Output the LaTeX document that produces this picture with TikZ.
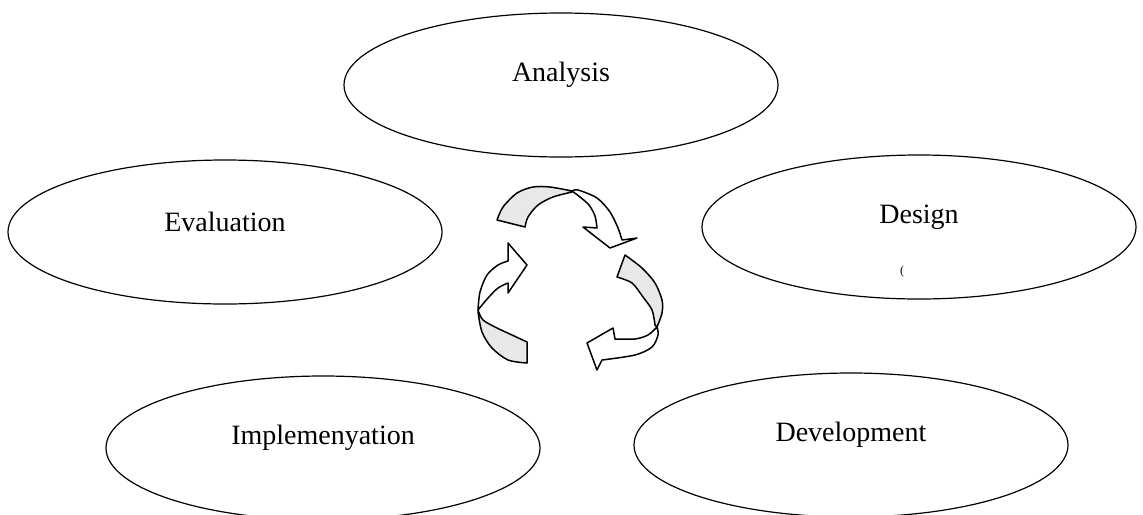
\documentclass[tikz,border=0pt]{standalone}
\usepackage{fontspec}
\setmainfont{Liberation Serif}
\usepackage{tikz}
\usetikzlibrary{shapes.geometric}

\begin{document}
\begin{tikzpicture}[
          x=0.5pt, y=-0.5pt,
          stage/.style={draw, ellipse, line width=0.6pt, minimum width=217pt, minimum height=72pt, inner sep=0pt},
          lbl/.style={font=\fontsize{14}{16}\selectfont, inner sep=1pt},
          under/.style={draw, line width=0.75pt, line join=round, fill=black!9},
          over/.style={draw, line width=0.75pt, line join=round, fill=white}
      ]
        \clip (0,0) rectangle (1143,514);

        \node[stage] (ana) at (561,85) {};
        \node[stage] (eva) at (225,232) {};
        \node[stage] (des) at (919,227) {};
        \node[stage] (imp) at (323,448) {};
        \node[stage] (dev) at (851,445) {};

        \node[lbl] (analbl) at ([yshift=5pt]ana.center) {Analysis};
        \node[lbl] (evalbl) at ([yshift=5pt]eva.center) {Evaluation};
        \node[lbl] (deslbl) at ([yshift=5pt]des.center) {Design};
        \node[lbl] (implbl) at ([yshift=5pt]imp.center) {Implemenyation};
        \node[lbl] (devlbl) at ([yshift=5pt]dev.center) {Development};
        \node[font=\fontsize{6}{7}\selectfont, inner sep=0pt] (desmark) at (902,272) {(};

        \draw[under] plot[smooth] coordinates {(497,220) (503,207) (517,193) (533,187) (550,187) (572,191)}
            -- plot[smooth] coordinates {(572,192) (553,197) (538,205) (528,217) (525,227)} -- cycle;
        \draw[over] plot[smooth] coordinates {(572,191) (578,190) (597,198) (610,212) (618,228) (622,240)}
            -- (637,238) -- (610,248) -- (583,227) -- (597,228)
            -- plot[smooth] coordinates {(597,228) (595,216) (589,205) (580,197) (572,191)} -- cycle;

        \draw[under] plot[smooth] coordinates {(625,255) (642,268) (655,283) (662,300) (662,313) (657,327)}
            -- plot[smooth] coordinates {(655,325) (652,310) (643,297) (632,283) (617,277)} -- cycle;
        \draw[over] plot[smooth] coordinates {(657,327) (658,335) (652,347) (635,355) (602,360)}
            -- (597,370) -- (587,343) -- (613,328) -- (615,339)
            -- plot[smooth] coordinates {(615,339) (635,339) (648,335) (657,327)} -- cycle;

        \draw[under] plot[smooth] coordinates {(527,342) (512,335) (497,328) (483,320) (478,310)}
            -- plot[smooth] coordinates {(478,312) (482,332) (492,348) (508,360) (527,363)} -- cycle;
        \draw[over] plot[smooth] coordinates {(478,310) (480,292) (487,275) (498,265) (508,261)}
            -- (508,243) -- (527,265) -- (508,293) -- (508,283)
            -- plot[smooth] coordinates {(508,283) (498,288) (488,298) (478,310)} -- cycle;
      \end{tikzpicture}
\end{document}
